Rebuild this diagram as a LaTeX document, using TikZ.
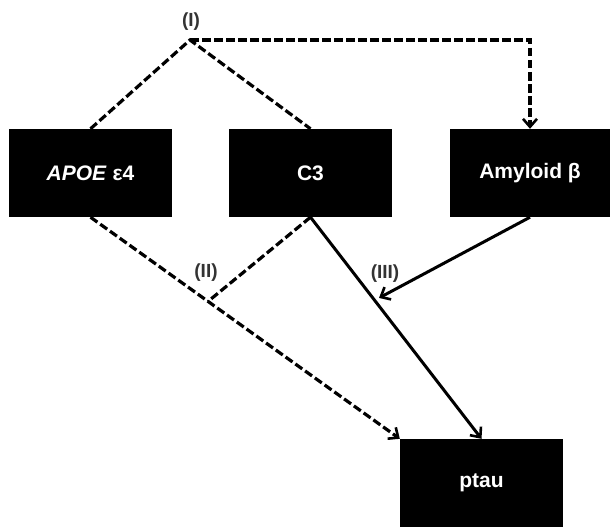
\documentclass[tikz,border=0pt]{standalone}
\usepackage{fontspec}
\setmainfont{Liberation Sans}
\usetikzlibrary{arrows.meta,calc}
\begin{document}
\begin{tikzpicture}[x=1pt,y=-1pt,
  box/.style={fill=black,draw=none,minimum width=163pt,minimum height=88pt,inner sep=0pt,text=white,font=\fontsize{21}{24}\selectfont\bfseries},
  lab/.style={text=black!80,font=\fontsize{19}{22}\selectfont\bfseries,inner sep=0pt},
  conn/.style={line width=3pt},
  dconn/.style={line width=3.2pt,dash pattern=on 8.5pt off 3.5pt},
  tip/.style={-{Straight Barb[length=8pt,width=14pt,line width=2.6pt]}}
]
\useasboundingbox (0,0) rectangle (610,527);
\node[box] (apoe) at (90.5,173) {\textit{APOE} ε4};
\node[box] (c3) at (310.5,173) {C3};
\node[box,minimum width=160pt] (amy) at (530,173) {Amyloid β};
\node[box] (ptau) at (481.5,483) {ptau};
\coordinate (apex) at (190,40);
\node[lab] (l1) at (191,22) {(I)};
\draw[dconn] (apoe.north) -- (apex) -- (c3.north);
\draw[dconn,tip] (apex) -| (amy.north);
\draw[dconn,tip] (apoe.south) -- (ptau.north west);
\coordinate (j2) at ($(apoe.south)!0.38!(ptau.north west)$);
\draw[dconn] (c3.south) -- (j2);
\node[lab] (l2) at (206,273) {(II)};
\draw[conn,tip] (c3.south) -- (ptau.north);
\coordinate (j3) at ($(c3.south)!0.375!(ptau.north)$);
\draw[conn,tip,shorten >=5pt] (amy.south) -- (j3);
\node[lab] (l3) at (385,274) {(III)};
\end{tikzpicture}
\end{document}
